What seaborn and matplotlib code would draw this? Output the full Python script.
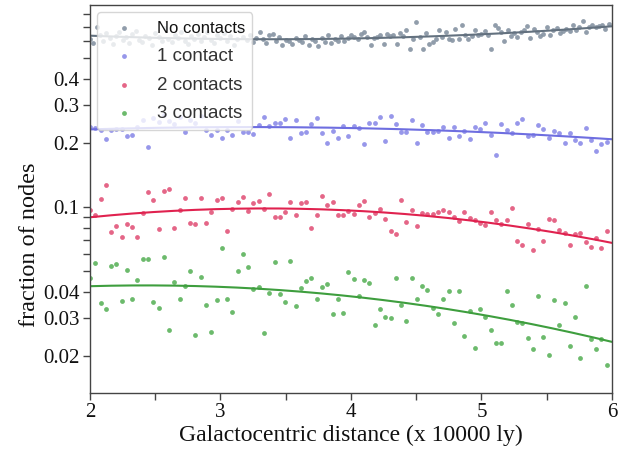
import matplotlib
matplotlib.use('Agg')  # no display

import numpy as np
import pandas as pd
import matplotlib.pyplot as plt
import seaborn as sns
from matplotlib.ticker import LogLocator, NullFormatter, MultipleLocator

# x positions (x 10000 ly)
distance = np.round(np.linspace(2.0, 5.96, 99), 4)
gray_distance = np.round(np.linspace(2.0, 5.975, 160), 4)

no_contacts = [
    0.612, 0.585, 0.700, 0.640, 0.598, 0.655, 0.621, 0.580, 0.633, 0.660,
    0.605, 0.624, 0.590, 0.648, 0.671, 0.610, 0.595, 0.636, 0.618, 0.575,
    0.652, 0.629, 0.600, 0.688, 0.615, 0.592, 0.640, 0.622, 0.660, 0.603,
    0.581, 0.635, 0.617, 0.646, 0.598, 0.626, 0.664, 0.609, 0.588, 0.640,
    0.621, 0.654, 0.600, 0.632, 0.578, 0.615, 0.668, 0.628, 0.607, 0.642,
    0.594, 0.620, 0.660, 0.612, 0.585, 0.638, 0.650, 0.603, 0.625, 0.575,
    0.610, 0.598, 0.583, 0.620, 0.605, 0.592, 0.631, 0.578, 0.612, 0.600,
    0.570, 0.622, 0.596, 0.640, 0.588, 0.612, 0.604, 0.633, 0.600, 0.618,
    0.642, 0.624, 0.615, 0.645, 0.662, 0.626, 0.573, 0.620, 0.629, 0.638,
    0.583, 0.649, 0.633, 0.638, 0.583, 0.657, 0.633, 0.674, 0.549, 0.615,
    0.738, 0.626, 0.553, 0.657, 0.583, 0.594, 0.615, 0.674, 0.626, 0.662,
    0.615, 0.605, 0.686, 0.615, 0.717, 0.642, 0.615, 0.633, 0.674, 0.638,
    0.649, 0.667, 0.642, 0.553, 0.717, 0.691, 0.662, 0.598, 0.674, 0.633,
    0.657, 0.626, 0.662, 0.674, 0.706, 0.620, 0.686, 0.662, 0.633, 0.649,
    0.699, 0.638, 0.674, 0.691, 0.657, 0.667, 0.681, 0.667, 0.712, 0.674,
    0.699, 0.744, 0.662, 0.699, 0.712, 0.699, 0.706, 0.717, 0.686, 0.724,
]

one_contact = [
    0.2376, 0.2350, 0.2293, 0.2085, 0.2293, 0.2333, 0.2333, 0.2160, 0.2183, 0.2384,
    0.2565, 0.1910, 0.2620, 0.2510, 0.2710, 0.2540, 0.2450, 0.2650, 0.2243, 0.2565,
    0.2478, 0.2680, 0.2293, 0.2183, 0.2293, 0.2114, 0.2293, 0.2183, 0.2540, 0.2243,
    0.2243, 0.2210, 0.2436, 0.2630, 0.2402, 0.2478, 0.2478, 0.2594, 0.2114, 0.2565,
    0.2219, 0.2243, 0.2454, 0.2602, 0.2219, 0.1996, 0.2267, 0.2114, 0.2402, 0.2160,
    0.2394, 0.2343, 0.1981, 0.2478, 0.2478, 0.2630, 0.2041, 0.2659, 0.2454, 0.2243,
    0.2243, 0.2565, 0.2002, 0.2427, 0.2243, 0.2243, 0.2267, 0.2368, 0.2114, 0.2368,
    0.2160, 0.2267, 0.2085, 0.2368, 0.2318, 0.2478, 0.2183, 0.1744, 0.2454, 0.2293,
    0.2219, 0.2478, 0.2594, 0.2160, 0.2183, 0.2427, 0.2318, 0.2114, 0.2267, 0.2219,
    0.2002, 0.2219, 0.2062, 0.2002, 0.2343, 0.2062, 0.1830, 0.1975, 0.2017,
]

two_contacts = [
    0.0968, 0.0917, 0.1094, 0.1269, 0.0760, 0.0814, 0.0726, 0.0832, 0.0803, 0.0726,
    0.0934, 0.1172, 0.1079, 0.0786, 0.1185, 0.1211, 0.0797, 0.0965, 0.1106, 0.0844,
    0.0832, 0.1106, 0.0844, 0.0944, 0.1079, 0.1106, 0.0771, 0.0975, 0.1056, 0.1118,
    0.0954, 0.1044, 0.1067, 0.0975, 0.1147, 0.0901, 0.0901, 0.0944, 0.1056, 0.0920,
    0.1044, 0.1056, 0.0794, 0.0920, 0.1130, 0.1022, 0.1056, 0.0920, 0.0920, 0.0954,
    0.0922, 0.1022, 0.1067, 0.0901, 0.0937, 0.0975, 0.0882, 0.0771, 0.0744, 0.1079,
    0.0853, 0.0965, 0.0814, 0.0934, 0.0924, 0.0924, 0.0944, 0.0968, 0.0944, 0.0895,
    0.0862, 0.0944, 0.0891, 0.0872, 0.0844, 0.0823, 0.0944, 0.0872, 0.0832, 0.0872,
    0.0989, 0.0695, 0.0661, 0.0832, 0.0628, 0.0786, 0.0695, 0.0882, 0.0872, 0.0777,
    0.0752, 0.0663, 0.0744, 0.0752, 0.0687, 0.0649, 0.0718, 0.0642, 0.0774,
]

three_contacts = [
    0.0465, 0.0548, 0.0355, 0.0332, 0.0529, 0.0540, 0.0363, 0.0506, 0.0371, 0.0452,
    0.0572, 0.0572, 0.0359, 0.0336, 0.0581, 0.0265, 0.0445, 0.0371, 0.0426, 0.0499,
    0.0251, 0.0468, 0.0347, 0.0259, 0.0367, 0.0643, 0.0371, 0.0322, 0.0499, 0.0600,
    0.0523, 0.0412, 0.0422, 0.0256, 0.0395, 0.0552, 0.0389, 0.0359, 0.0560, 0.0344,
    0.0417, 0.0447, 0.0462, 0.0371, 0.0422, 0.0437, 0.0314, 0.0371, 0.0319, 0.0494,
    0.0457, 0.0381, 0.0456, 0.0442, 0.0278, 0.0333, 0.0303, 0.0300, 0.0462, 0.0347,
    0.0293, 0.0466, 0.0370, 0.0426, 0.0406, 0.0336, 0.0314, 0.0371, 0.0402, 0.0284,
    0.0402, 0.0247, 0.0326, 0.0218, 0.0332, 0.0306, 0.0265, 0.0231, 0.0231, 0.0402,
    0.0347, 0.0290, 0.0287, 0.0243, 0.0215, 0.0383, 0.0245, 0.0202, 0.0367, 0.0278,
    0.0355, 0.0223, 0.0303, 0.0196, 0.0426, 0.0240, 0.0215, 0.0240, 0.0181,
]

labels = ['No contacts', '1 contact', '2 contacts', '3 contacts']
point_colors = ['#8593a2', '#8c8ce8', '#e2557a', '#5cb35c']
line_colors = ['#63717f', '#6e6ee0', '#e0224f', '#3e9e3e']

sns.set_theme(style='white')
plt.rcParams['font.family'] = ['Liberation Serif', 'DejaVu Serif']

fig = plt.figure(figsize=(6.28, 4.61), dpi=100)
ax = fig.add_axes([0.1433, 0.1475, 0.8312, 0.8418])

series = [
    (gray_distance, no_contacts),
    (distance, one_contact),
    (distance, two_contacts),
    (distance, three_contacts),
]

fit_x = np.linspace(2.0, 6.0, 200)
for (xs, ys), label, pc, lc in zip(series, labels, point_colors, line_colors):
    df = pd.DataFrame({'x': xs, 'y': ys})
    sns.scatterplot(data=df, x='x', y='y', ax=ax, color=pc, s=12, linewidth=0,
                    alpha=0.9, label=label)
    # quadratic fit in log space
    coef = np.polyfit(df['x'], np.log10(df['y']), 2)
    fit = pd.DataFrame({'x': fit_x, 'y': 10 ** np.polyval(coef, fit_x)})
    sns.lineplot(data=fit, x='x', y='y', ax=ax, color=lc, linewidth=1.5, legend=False)

ax.set_yscale('log')
ax.set_xlim(2, 6)
ax.set_ylim(0.0134, 0.887)

yt = [0.02, 0.03, 0.04, 0.1, 0.2, 0.3, 0.4]
ax.set_yticks(yt)
ax.set_yticklabels(['0.02', '0.03', '0.04', '0.1', '0.2', '0.3', '0.4'])
ax.yaxis.set_minor_locator(LogLocator(base=10, subs=np.arange(2, 10)))
ax.yaxis.set_minor_formatter(NullFormatter())
ax.xaxis.set_major_locator(MultipleLocator(1))
ax.xaxis.set_minor_locator(MultipleLocator(0.5))

ax.tick_params(axis='both', which='both', direction='out', length=5, width=1,
               color='#444444', labelsize=15, labelcolor='#111111', pad=2.5)
ax.tick_params(axis='both', which='both', left=True, bottom=True)
for sp in ax.spines.values():
    sp.set_color('#444444')
    sp.set_linewidth(1.0)

ax.set_xlabel('Galactocentric distance (x 10000 ly)', fontsize=17, color='#111111',
              labelpad=2)
ax.set_ylabel('fraction of nodes', fontsize=17.5, color='#111111')
ax.yaxis.set_label_coords(-0.095, 0.381)

leg = ax.legend(loc='upper left', bbox_to_anchor=(0.0, 1.0), frameon=True,
                framealpha=0.8, borderaxespad=0.4, borderpad=0.4,
                handletextpad=0.75, handlelength=2.0,
                labelspacing=0.62, markerscale=1.0,
                prop={'family': 'Liberation Sans', 'size': 13.5})
leg.get_frame().set_edgecolor('#cccccc')
for i, t in enumerate(leg.get_texts()):
    t.set_color('#111111' if i == 0 else '#333333')
    if i == 0:
        t.set_fontsize(12)

plt.savefig('out.png', dpi=100)
plt.close()
